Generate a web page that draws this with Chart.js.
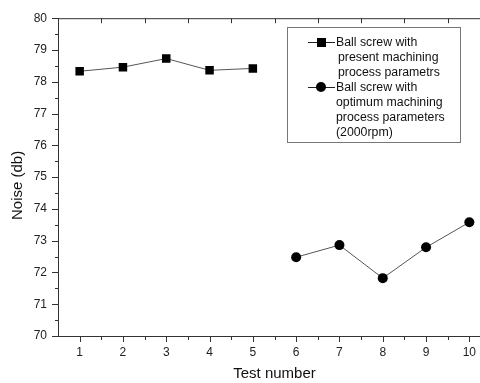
<!DOCTYPE html>
<html>
<head>
<meta charset="utf-8">
<script src="https://cdn.jsdelivr.net/npm/chart.js@4.4.1/dist/chart.umd.min.js"></script>
<style>
    body { margin: 0; overflow: hidden; background: #fff; }
    #wrap { position: relative; width: 500px; height: 383px; }
    #legend {
        position: absolute; left: 287px; top: 27px; width: 174px; height: 116px;
        border: 1px solid #777; box-sizing: border-box; padding-top: 7px;
        font-family: "Liberation Sans", Arial, sans-serif; font-size: 12.3px; line-height: 15px; color: #111;
    }
    .item { position: relative; padding-left: 48px; }
    .item .ln { position: absolute; left: 20px; top: 7px; width: 27px; height: 1px; background: #222; }
    .item .mk { position: absolute; background: #000; }
    .mk.sq { left: 29px; top: 3px; width: 9px; height: 9px; }
    .mk.ci { left: 28px; top: 2px; width: 10px; height: 10px; border-radius: 50%; }
    .item .cont { padding-left: 2px; }
</style>
</head>
<body>
<div id="wrap">
    <canvas id="noiseChart" width="500" height="383"></canvas>
    <div id="legend"></div>
</div>
<script>
// datos
const tests = [1, 2, 3, 4, 5, 6, 7, 8, 9, 10];
const presentTests = [1, 2, 3, 4, 5];
const presentNoise = [78.33, 78.46, 78.73, 78.36, 78.42];
const optimumTests = [6, 7, 8, 9, 10];
const optimumNoise = [72.48, 72.86, 71.82, 72.79, 73.58];
const yTicks = [70, 71, 72, 73, 74, 75, 76, 77, 78, 79, 80];
const presentLabel = ['Ball screw with', 'present machining', 'process parametrs'];
const optimumLabel = ['Ball screw with', 'optimum machining', 'process parameters', '(2000rpm)'];

const axisColor = '#333';
const fontFamily = '"Liberation Sans", Arial, sans-serif';

// Marcas de los ejes (mayores y menores) y eje superior
const axisMarks = {
    id: 'axisMarks',
    afterDraw(chart) {
        const ctx = chart.ctx;
        const a = chart.chartArea;
        const x = chart.scales.x, y = chart.scales.y;
        ctx.save();
        ctx.strokeStyle = axisColor;
        ctx.lineWidth = 1;
        ctx.beginPath();
        // eje superior
        ctx.moveTo(a.left, a.top + 0.5);
        ctx.lineTo(a.right, a.top + 0.5);
        tests.forEach(function (t) {
            const px = Math.round(x.getPixelForValue(t)) + 0.5;
            ctx.moveTo(px, a.bottom);
            ctx.lineTo(px, a.bottom + 6);
            const pm = Math.round(x.getPixelForValue(t + 0.5)) + 0.5;
            ctx.moveTo(pm, a.bottom);
            ctx.lineTo(pm, a.bottom + 4);
            ctx.moveTo(pm, a.top);
            ctx.lineTo(pm, a.top + 5);
        });
        yTicks.forEach(function (v) {
            const py = Math.round(y.getPixelForValue(v)) + 0.5;
            ctx.moveTo(a.left, py);
            ctx.lineTo(a.left - 6, py);
            if (v < 80) {
                const pm = Math.round(y.getPixelForValue(v + 0.5)) + 0.5;
                ctx.moveTo(a.left, pm);
                ctx.lineTo(a.left - 3, pm);
            }
        });
        ctx.stroke();
        ctx.restore();
    }
};

const ctx = document.getElementById('noiseChart').getContext('2d');
const myChart = new Chart(ctx, {
    type: 'line',
    data: {
        datasets: [
            {
                label: presentLabel.join(' '),
                data: presentTests.map((t, i) => ({ x: t, y: presentNoise[i] })),
                borderColor: '#555',
                borderWidth: 1,
                pointStyle: 'rect',
                pointRadius: 6,
                pointBackgroundColor: '#000',
                pointBorderColor: '#000',
                pointBorderWidth: 0
            },
            {
                label: optimumLabel.join(' '),
                data: optimumTests.map((t, i) => ({ x: t, y: optimumNoise[i] })),
                borderColor: '#555',
                borderWidth: 1,
                pointStyle: 'circle',
                pointRadius: 5,
                pointBackgroundColor: '#000',
                pointBorderColor: '#000',
                pointBorderWidth: 0
            }
        ]
    },
    options: {
        responsive: false,
        animation: false,
        layout: { padding: { left: 0, top: 16, right: 9, bottom: 0 } },
        plugins: { legend: { display: false }, tooltip: { enabled: false } },
        scales: {
            x: {
                type: 'linear',
                min: 0.5,
                max: 10.5,
                afterBuildTicks: function (scale) {
                    scale.ticks = tests.map(v => ({ value: v }));
                },
                afterFit: function (scale) { scale.height = 47; },
                grid: { display: false, drawTicks: false },
                border: { display: true, color: axisColor, width: 1 },
                ticks: { padding: 9, color: '#222', font: { family: fontFamily, size: 12 } },
                title: {
                    display: true, text: 'Test number', color: '#111',
                    padding: { top: 0, bottom: 0 },
                    font: { family: fontFamily, size: 15 }
                }
            },
            y: {
                min: 70,
                max: 80,
                afterBuildTicks: function (scale) {
                    scale.ticks = yTicks.map(v => ({ value: v }));
                },
                afterFit: function (scale) { scale.width = 58; },
                grid: { display: false, drawTicks: false },
                border: { display: true, color: axisColor, width: 1 },
                ticks: { padding: 11, color: '#222', font: { family: fontFamily, size: 12 } },
                title: {
                    display: true, text: 'Noise (db)    ', color: '#111',
                    padding: { top: 9, bottom: 0 },
                    font: { family: fontFamily, size: 15 }
                }
            }
        }
    },
    plugins: [axisMarks]
});

// Leyenda en HTML a partir de los datasets
function buildLegend() {
    const box = document.getElementById('legend');
    const groups = [[presentLabel, 'sq'], [optimumLabel, 'ci']];
    groups.forEach(function (g) {
        const item = document.createElement('div');
        item.className = 'item';
        item.innerHTML = '<span class="ln"></span><span class="mk ' + g[1] + '"></span>';
        g[0].forEach(function (line, i) {
            const d = document.createElement('div');
            d.textContent = line;
            if (i > 0 && g[1] === 'sq') d.className = 'cont';
            item.appendChild(d);
        });
        box.appendChild(item);
    });
}
buildLegend();
</script>
</body>
</html>
